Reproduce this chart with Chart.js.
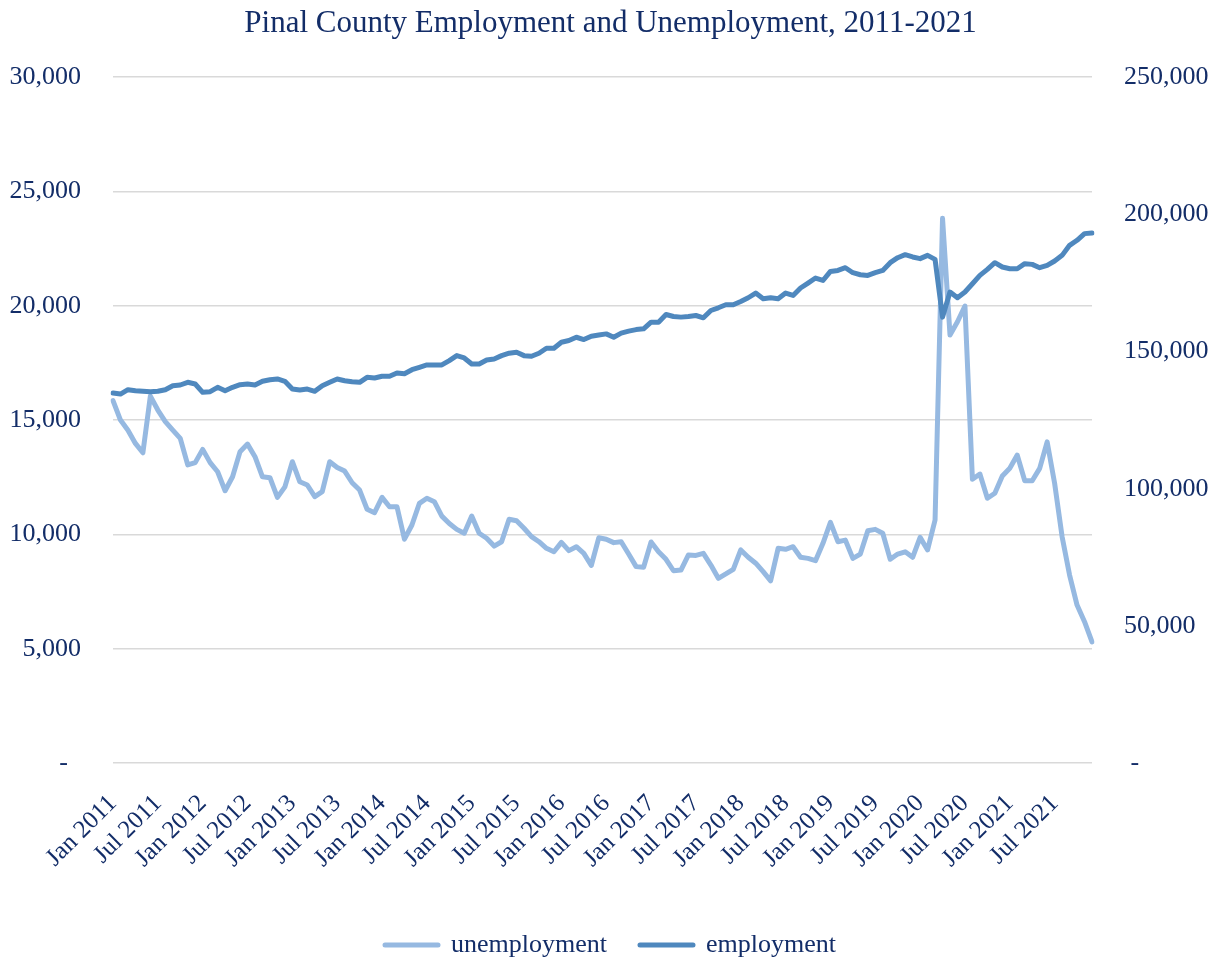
<!DOCTYPE html>
<html>
<head>
<meta charset="utf-8">
<title>Pinal County Employment and Unemployment, 2011-2021</title>
<script src="https://cdn.jsdelivr.net/npm/chart.js@4"></script>
<style>
  body { margin: 0; background: #fff; }
  #wrap { width: 1221px; height: 960px; }
</style>
</head>
<body>
<div id="wrap"><canvas id="lineChart" width="1221" height="960"></canvas></div>
<script>
// 資料
const years = [2011, 2012, 2013, 2014, 2015, 2016, 2017, 2018, 2019, 2020, 2021]
const monthNames = ['Jan', 'Feb', 'Mar', 'Apr', 'May', 'Jun', 'Jul', 'Aug', 'Sep', 'Oct', 'Nov', 'Dec']

const unemployment = [
  15850, 15000, 14560, 13980, 13570, 16050, 15440, 14930, 14560, 14200, 13040, 13140,
  13720, 13140, 12740, 11910, 12520, 13620, 13950, 13400, 12520, 12480, 11620, 12080,
  13180, 12300, 12160, 11650, 11870, 13180, 12930, 12770, 12260, 11940, 11100, 10950,
  11620, 11210, 11210, 9790, 10410, 11360, 11580, 11430, 10800, 10480, 10220, 10050,
  10800, 10050, 9830, 9490, 9680, 10660, 10600, 10270, 9900, 9680, 9390, 9240,
  9650, 9290, 9460, 9170, 8640, 9850, 9790, 9640, 9680, 9140, 8590, 8560,
  9670, 9240, 8910, 8410, 8440, 9100, 9080, 9170, 8660, 8080, 8270, 8470,
  9320, 9000, 8740, 8370, 7970, 9390, 9350, 9460, 9000, 8950, 8850, 9610,
  10530, 9680, 9750, 8950, 9140, 10160, 10220, 10050, 8910, 9140, 9240, 9000,
  9870, 9320, 10630, 23825, 18720, 19300, 19990, 12410, 12640, 11580, 11800, 12550,
  12890, 13470, 12350, 12350, 12890, 14050, 12230, 9900, 8220, 6910, 6180, 5300
]

const employment = [
  134870, 134500, 136080, 135700, 135500, 135350, 135500, 136080, 137540, 137800, 138780, 138160,
  135120, 135350, 136950, 135700, 136950, 137900, 138160, 137800, 139140, 139730, 139990, 139140,
  136330, 135970, 136330, 135490, 137540, 138780, 139990, 139360, 139000, 138780, 140600, 140350,
  140970, 140970, 142180, 141920, 143380, 144260, 145100, 145100, 145100, 146680, 148500, 147660,
  145470, 145470, 146930, 147300, 148500, 149380, 149740, 148500, 148280, 149380, 151210, 151210,
  153400, 154000, 155200, 154350, 155600, 156000, 156430, 155230, 156690, 157420, 158000, 158260,
  160710, 160710, 163500, 162760, 162540, 162760, 163130, 162280, 164950, 165940, 167030, 167030,
  168240, 169600, 171300, 169230, 169600, 169230, 171300, 170430, 173140, 174960, 176790, 175900,
  179200, 179560, 180550, 178730, 178000, 177740, 178730, 179560, 182380, 184200, 185300, 184470,
  183850, 185050, 183590, 162540, 171680, 169600, 171680, 174700, 177740, 179930, 182380, 180800,
  180190, 180190, 182020, 181770, 180550, 181400, 183000, 185050, 188700, 190550, 192980, 193230
]

const leftTicks = [0, 5000, 10000, 15000, 20000, 25000, 30000]
const rightTicks = [0, 50000, 100000, 150000, 200000, 250000]

const labels = []
years.forEach((y) => {
  monthNames.forEach((m) => labels.push(`${m} ${y}`))
})

const navy = '#132D68'
const lightBlue = '#96B9E1'
const darkBlue = '#4F88BE'

Chart.defaults.font.family = '"Liberation Serif", "Times New Roman", serif'
Chart.defaults.color = navy

// 0 顯示為 "-"
const fmtLeft = (v) => (v === 0 ? '-  ' : v.toLocaleString('en-US'))
const fmtRight = (v) => (v === 0 ? ' -' : v.toLocaleString('en-US'))

const ctx = document.getElementById('lineChart')
new Chart(ctx, {
  type: 'line',
  data: {
    labels,
    datasets: [
      {
        label: 'unemployment',
        data: unemployment,
        yAxisID: 'yLeft',
        borderColor: lightBlue,
        backgroundColor: lightBlue,
        borderWidth: 5,
        pointRadius: 0,
        tension: 0,
        borderJoinStyle: 'round',
        borderCapStyle: 'round',
        order: 2
      },
      {
        label: 'employment',
        data: employment,
        yAxisID: 'yRight',
        borderColor: darkBlue,
        backgroundColor: darkBlue,
        borderWidth: 5,
        pointRadius: 0,
        tension: 0,
        borderJoinStyle: 'round',
        borderCapStyle: 'round',
        order: 1
      }
    ]
  },
  options: {
    responsive: false,
    animation: false,
    devicePixelRatio: 1,
    layout: { padding: { top: 0, left: 0, right: 0, bottom: -8 } },
    plugins: {
      title: {
        display: true,
        text: 'Pinal County Employment and Unemployment, 2011-2021',
        color: navy,
        font: { size: 31, weight: 'normal' },
        padding: { top: 5, bottom: 35 }
      },
      legend: {
        position: 'bottom',
        labels: {
          color: navy,
          font: { size: 26 },
          boxWidth: 53,
          boxHeight: 0,
          padding: 33,
          sort: (a, b) => a.datasetIndex - b.datasetIndex
        }
      },
      tooltip: { enabled: false }
    },
    scales: {
      x: {
        grid: { display: false },
        border: { display: false },
        ticks: {
          autoSkip: false,
          minRotation: 45,
          maxRotation: 45,
          padding: 18,
          color: navy,
          font: { size: 25 },
          callback: function (value, index) {
            return index % 6 === 0 ? this.getLabelForValue(value) : ''
          }
        },
        afterFit: (scale) => { scale.height = 136 }
      },
      yLeft: {
        position: 'left',
        min: 0,
        max: 30000,
        afterBuildTicks: (scale) => { scale.ticks = leftTicks.map((v) => ({ value: v })) },
        grid: { color: '#D9D9D9', lineWidth: 1.5, drawTicks: false },
        border: { display: false },
        ticks: {
          padding: 32,
          color: navy,
          font: { size: 26 },
          callback: fmtLeft
        },
        afterFit: (scale) => { scale.width = 113 }
      },
      yRight: {
        position: 'right',
        min: 0,
        max: 250000,
        afterBuildTicks: (scale) => { scale.ticks = rightTicks.map((v) => ({ value: v })) },
        grid: { drawOnChartArea: false, drawTicks: false },
        border: { display: false },
        ticks: {
          padding: 32,
          color: navy,
          font: { size: 26 },
          callback: fmtRight
        },
        afterFit: (scale) => { scale.width = 129 }
      }
    }
  }
})
</script>
</body>
</html>
